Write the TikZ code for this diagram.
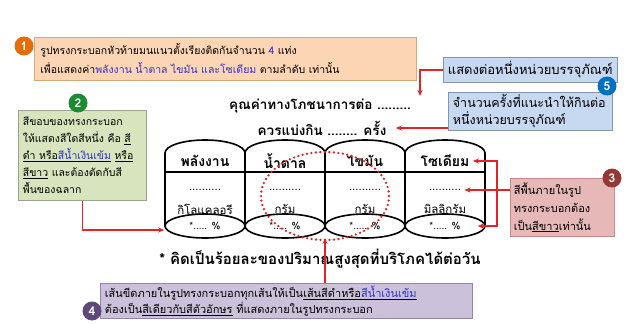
\documentclass[tikz,border=0pt]{standalone}
\usepackage{fontspec}
\setmainfont{Loma}[Script=Thai]
\usetikzlibrary{arrows.meta,shapes.geometric}

\definecolor{arrowred}{HTML}{E2232A}
\definecolor{hiblue}{HTML}{3030C8}
\definecolor{orangefill}{HTML}{FCD5B4}
\definecolor{orangeline}{HTML}{D8A878}
\definecolor{orangebadge}{HTML}{E46C0A}
\definecolor{bluefill}{HTML}{C6D9F1}
\definecolor{blueline}{HTML}{7F96B2}
\definecolor{bluebadge}{HTML}{0070C0}
\definecolor{greenfill}{HTML}{D7E4BD}
\definecolor{greenline}{HTML}{9AA58A}
\definecolor{greenbadge}{HTML}{1E8A32}
\definecolor{pinkfill}{HTML}{E6B9B8}
\definecolor{pinkline}{HTML}{C58A88}
\definecolor{pinkbadge}{HTML}{953735}
\definecolor{purplefill}{HTML}{CCC1DA}
\definecolor{purpleline}{HTML}{9484AC}
\definecolor{purplebadge}{HTML}{5F497A}

\tikzset{
  note/.style={draw, line width=0.8pt, anchor=north west, inner sep=4pt, align=left},
  badge/.style={circle, inner sep=0pt, minimum size=19pt, text=white, font=\fontsize{12}{12}\selectfont\bfseries},
  callout/.style={draw=arrowred, line width=1.2pt, -{Stealth[length=6pt,width=5pt]}},
  cyl/.style={line width=1.6pt},
  head/.style={font=\fontsize{14}{14}\selectfont\bfseries},
  small/.style={font=\fontsize{11.5}{11.5}\selectfont},
  pct/.style={ellipse, draw, line width=1.6pt, minimum width=80pt, minimum height=24pt, inner sep=0pt, font=\fontsize{10}{10}\selectfont}
}

\begin{document}
\begin{tikzpicture}[x=1pt,y=-1pt]
  \useasboundingbox (0,0) rectangle (630,324);

  % Notes
  \node[note, fill=orangefill, draw=orangeline, minimum width=381pt, minimum height=43pt, text width=370pt,
        inner xsep=6pt, font=\fontsize{10.5}{19}\selectfont] (boxOne) at (34,37)
    {รูปทรงกระบอกหัวท้ายมนแนวตั้งเรียงติดกันจำนวน \textcolor{hiblue}{4} แท่ง\\
     เพื่อแสดงค่า\textcolor{hiblue}{พลังงาน น้ำตาล ไขมัน และโซเดียม} ตามลำดับ เท่านั้น};
  \node[note, fill=bluefill, draw=blueline, minimum width=174pt, minimum height=25pt, text width=165pt,
        font=\fontsize{13}{18}\selectfont] (boxFiveA) at (443,57)
    {แสดงต่อหนึ่งหน่วยบรรจุภัณฑ์};
  \node[note, fill=bluefill, draw=blueline, minimum width=164pt, minimum height=36pt, text width=155pt,
        inner ysep=2pt, font=\fontsize{12.5}{17}\selectfont] (boxFiveB) at (448,92)
    {จำนวนครั้งที่แนะนำให้กินต่อ\\ หนึ่งหน่วยบรรจุภัณฑ์};
  \node[note, fill=greenfill, draw=greenline, minimum width=128pt, minimum height=90pt, text width=119pt,
        inner ysep=2pt, font=\fontsize{10.5}{17}\selectfont] (boxTwo) at (18,110)
    {สีขอบของทรงกระบอก\\
     ให้แสดงสีใดสีหนึ่ง คือ \underline{สี}\\
     \underline{ดำ หรือ}\underline{\textcolor{hiblue}{สีน้ำเงินเข้ม}} \underline{หรือ}\\
     \underline{สีขาว} และต้องตัดกับสี\\
     พื้นของฉลาก};
  \node[note, fill=pinkfill, draw=pinkline, minimum width=104pt, minimum height=58pt, text width=97pt,
        inner ysep=2pt, inner xsep=3pt, font=\fontsize{11}{18}\selectfont] (boxThree) at (510,178)
    {สีพื้นภายในรูป\\ ทรงกระบอกต้อง\\ เป็น\underline{สีขาว}เท่านั้น};
  \node[note, fill=purplefill, draw=purpleline, minimum width=372pt, minimum height=35pt, text width=363pt,
        inner ysep=2pt, font=\fontsize{11}{16}\selectfont] (boxFour) at (100,283)
    {เส้นขีดภายในรูปทรงกระบอกทุกเส้นให้เป็น\underline{เส้นสีดำหรือ\textcolor{hiblue}{สีน้ำเงินเข้ม}}\\
     ต้องเป็น\underline{สีเดียวกับสีตัวอักษร} ที่แสดงภายในรูปทรงกระบอก};

  % Badges
  \node[badge, fill=orangebadge] (badgeOne) at (24,46) {1};
  \node[badge, fill=greenbadge] (badgeTwo) at (78,103) {2};
  \node[badge, fill=pinkbadge] (badgeThree) at (612,178) {3};
  \node[badge, fill=purplebadge] (badgeFour) at (92,311) {4};
  \node[badge, fill=bluebadge] (badgeFive) at (607,86) {5};

  % Heading
  \node[font=\fontsize{13.5}{13.5}\selectfont\bfseries] (perPack) at (320,106) {คุณค่าทางโภชนาการต่อ .........};
  \node[font=\fontsize{13.5}{13.5}\selectfont\bfseries] (serve) at (322,128) {ควรแบ่งกิน ........ ครั้ง};

  % Cylinders
  \foreach \i/\name/\unit in {0/พลังงาน/กิโลแคลอรี, 1/น้ำตาล/กรัม, 2/ไขมัน/กรัม, 3/โซเดียม/มิลลิกรัม} {
    \draw[cyl] (165+80*\i,226) -- (165+80*\i,153)
      arc[start angle=180, end angle=360, x radius=40, y radius=13] -- (245+80*\i,226);
    \node[head] (head\i) at (205+80*\i,161) {\name};
    \node[small] (dots\i) at (205+80*\i,190) {..........};
    \node[small] (unit\i) at (205+80*\i,209) {\unit};
    \node[pct, fill=white] (pct\i) at (205+80*\i,226) {*..... \%};
  }
  \draw[cyl] (165,172) -- (485,172);

  % Dotted mark
  \draw[arrowred, line width=2.6pt, line cap=round, dash pattern=on 0pt off 4.5pt]
    (325,196) ellipse [x radius=64, y radius=44];

  % Footnote
  \node[font=\fontsize{15}{15}\selectfont\bfseries] (footnote) at (320,259)
    {* คิดเป็นร้อยละของปริมาณสูงสุดที่บริโภคได้ต่อวัน};

  % Callouts
  \coordinate (packTip) at (420,96);
  \coordinate (joint) at (325,238);
  \coordinate (bracket) at (497,0);
  \draw[callout] (boxFiveA.west) -| (packTip);
  \draw[callout] (boxFiveB.west |- serve) -- ([xshift=6pt]serve.east);
  \draw[callout] (boxTwo.south) |- ([yshift=-4pt]pct0.west);
  \draw[callout] (boxThree.west |- dots3) -- (dots3.east);
  \draw[callout] (bracket |- dots3) |- (head3.east);
  \draw[callout] (bracket |- dots3) |- ([xshift=-8pt]pct3.east);
  \draw[callout] (boxFour.north -| joint) -- (joint);
\end{tikzpicture}
\end{document}
